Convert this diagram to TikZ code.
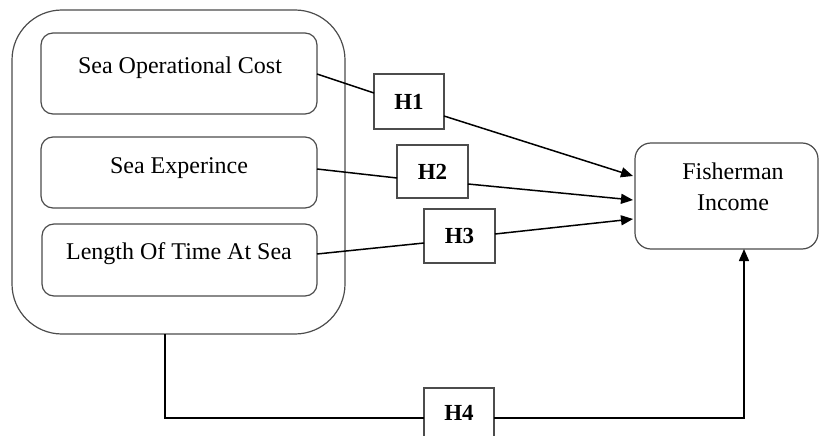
\documentclass[tikz,border=0pt]{standalone}
\usepackage{fontspec}
\setmainfont{Liberation Serif}
\usetikzlibrary{arrows.meta}
\begin{document}
\begin{tikzpicture}[x=1pt,y=-1pt,
  box/.style={draw=black!70,line width=1.2pt,rectangle,inner sep=0pt,outer sep=0pt},
  rbox/.style={box,rounded corners=#1},
  hbox/.style={box,font=\fontsize{23}{28}\selectfont\bfseries},
  lbl/.style={inner sep=0pt,anchor=base,font=\fontsize{24}{31}\selectfont},
  link/.style={draw=black,line width=1.5pt},
  arr/.style={link,-{Triangle[length=12pt,width=10pt]}}]
\clip (0,0) rectangle (820,436);
% outer group
\node[rbox=50,minimum width=333pt,minimum height=324pt] (outer) at (178.5,172) {};
% inner boxes
\node[rbox=12,minimum width=276pt,minimum height=81pt] (b1) at (179,73.5) {};
\node[rbox=12,minimum width=276pt,minimum height=71pt] (b2) at (179,172.5) {};
\node[rbox=12,minimum width=275pt,minimum height=72pt] (b3) at (179.5,260) {};
\node[lbl] (t1) at (180,74) {Sea Operational Cost};
\node[lbl] (t2) at (179,173) {Sea Experince};
\node[lbl] (t3) at (179,259) {Length Of Time At Sea};
% target
\node[rbox=16,minimum width=183pt,minimum height=106pt] (fish) at (726.5,196) {};
\node[lbl,align=center,anchor=base] (ft) at (733,210) {Fisherman\\Income};
% hypothesis boxes
\node[hbox,minimum width=70pt,minimum height=55pt] (h1) at (409,101.5) {H1};
\node[hbox,minimum width=71pt,minimum height=53pt] (h2) at (432.5,171.5) {H2};
\node[hbox,minimum width=71pt,minimum height=54pt] (h3) at (459.5,236) {H3};
\node[hbox,minimum width=70pt,minimum height=50pt] (h4) at (459,413) {H4};
% connectors
\draw[link] (b1.east |- t1.base) -- ([yshift=8.5pt]h1.west);
\draw[arr] ([yshift=-14.5pt]h1.east) -- ([yshift=20pt,xshift=-2pt]fish.west);
\draw[link] ([yshift=3.5pt]b2.east) -- ([yshift=-6.5pt]h2.west);
\draw[arr] ([yshift=-12.5pt]h2.east) -- ([yshift=-4pt,xshift=-2pt]fish.west);
\draw[link] ([yshift=6pt]b3.east) -- ([yshift=-7pt]h3.west);
\draw[arr] ([yshift=2pt]h3.east) -- ([yshift=-23pt,xshift=-2pt]fish.west);
\coordinate (o4) at (165,334);
\coordinate (f4) at (744,249);
\draw[link] (o4) |- ([yshift=-5pt]h4.west);
\draw[arr] ([yshift=-5pt]h4.east) -| (f4);
\end{tikzpicture}
\end{document}
